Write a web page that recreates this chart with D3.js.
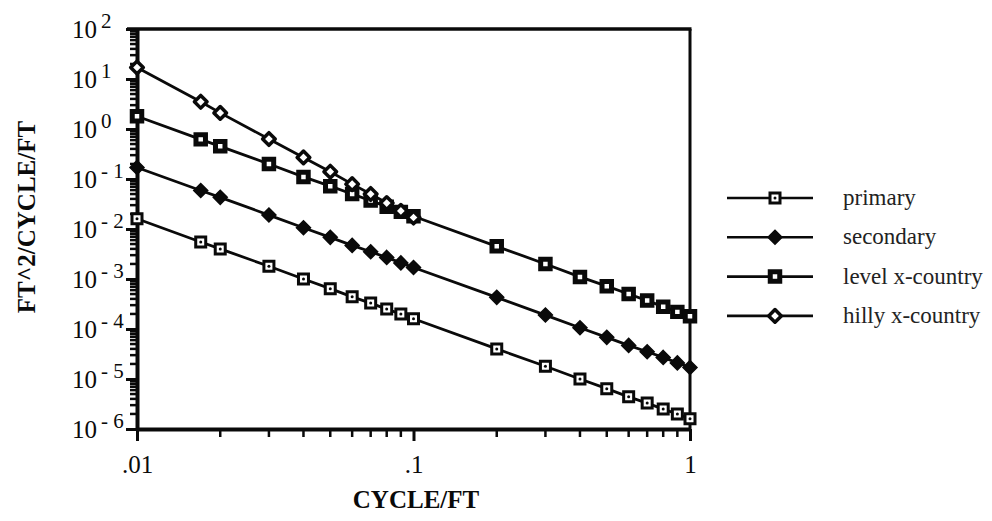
<!DOCTYPE html>
<html>
<head>
<meta charset="utf-8">
<script src="https://cdn.jsdelivr.net/npm/d3@7"></script>
<style>
  body { margin: 0; background: #fff; }
  svg { display: block; }
  svg text { font-family: "Liberation Serif", "Times New Roman", serif; }
</style>
</head>
<body>
<div id="chart"></div>
<script>
// spatial frequency (cycle/ft)
const xValues = [0.01, 0.017, 0.02, 0.03, 0.04, 0.05, 0.06, 0.07, 0.08, 0.09, 0.1,
                 0.2, 0.3, 0.4, 0.5, 0.6, 0.7, 0.8, 0.9, 1];

// PSD values (ft^2/cycle/ft)
const primary = [1.6e-2, 5.5e-3, 4.0e-3, 1.8e-3, 1.0e-3, 6.4e-4, 4.4e-4, 3.3e-4, 2.5e-4, 2.0e-4, 1.6e-4,
                 4.0e-5, 1.8e-5, 1.0e-5, 6.4e-6, 4.4e-6, 3.3e-6, 2.5e-6, 2.0e-6, 1.6e-6];
const secondary = [1.7e-1, 5.9e-2, 4.3e-2, 1.9e-2, 1.06e-2, 6.8e-3, 4.7e-3, 3.5e-3, 2.7e-3, 2.1e-3, 1.7e-3,
                   4.3e-4, 1.9e-4, 1.06e-4, 6.8e-5, 4.7e-5, 3.5e-5, 2.7e-5, 2.1e-5, 1.7e-5];
const levelXCountry = [1.8, 0.62, 0.45, 0.20, 0.11, 7.2e-2, 5.0e-2, 3.7e-2, 2.8e-2, 2.2e-2, 1.8e-2,
                       4.5e-3, 2.0e-3, 1.1e-3, 7.2e-4, 5.0e-4, 3.7e-4, 2.8e-4, 2.2e-4, 1.8e-4];
const hillyXCountry = [17, 3.5, 2.1, 0.63, 0.27, 0.14, 7.9e-2, 5.0e-2, 3.3e-2, 2.3e-2, 1.7e-2];

const seriesNames = ['primary', 'secondary', 'level x-country', 'hilly x-country'];
const yTickExponents = [2, 1, 0, -1, -2, -3, -4, -5, -6];
const xTickExponents = [-2, -1, 0];
const xTickLabels = ['.01', '.1', '1'];
const minorMultiples = [2, 3, 4, 5, 6, 7, 8, 9];

const W = 992, H = 521;
const margin = {top: 29, right: 302, bottom: 92, left: 137};
const width = W - margin.left - margin.right;
const height = H - margin.top - margin.bottom;

const svg = d3.select('#chart').append('svg')
  .attr('width', W)
  .attr('height', H);

const g = svg.append('g')
  .attr('transform', 'translate(' + margin.left + ',' + margin.top + ')');

const x = d3.scaleLog().domain([0.01, 1]).range([0, width]);
const y = d3.scaleLog().domain([1e-6, 1e2]).range([height, 0]);

const ink = '#0a0a0a';

// minor tick values: 2..9 within each decade
const yMinor = d3.merge(yTickExponents.slice(1).map(e => minorMultiples.map(k => k * Math.pow(10, e))));
const xMinor = d3.merge(xTickExponents.slice(0, -1).map(e => minorMultiples.map(k => k * Math.pow(10, e))));

// frame (top + right)
g.append('line').attr('x1', -10).attr('x2', width + 1.5).attr('y1', 0).attr('y2', 0)
  .attr('stroke', ink).attr('stroke-width', 3.5);
g.append('line').attr('x1', width).attr('x2', width).attr('y1', 0).attr('y2', height)
  .attr('stroke', ink).attr('stroke-width', 3);

g.append('g').attr('class', 'y-minor').selectAll('line')
  .data(yMinor)
  .enter().append('line')
  .attr('x1', -7).attr('x2', 0)
  .attr('y1', d => y(d)).attr('y2', d => y(d))
  .attr('stroke', ink).attr('stroke-width', 2.5);

g.append('g').attr('class', 'x-minor').selectAll('line')
  .data(xMinor)
  .enter().append('line')
  .attr('x1', d => x(d)).attr('x2', d => x(d))
  .attr('y1', height).attr('y2', height + 8)
  .attr('stroke', ink).attr('stroke-width', 2.5);

// major y axis
const yAxis = g.append('g')
  .call(d3.axisLeft(y).tickValues(yTickExponents.map(e => Math.pow(10, e))).tickSize(11).tickSizeOuter(0).tickFormat(''));
yAxis.attr('font-family', null).attr('font-size', null);
yAxis.select('.domain').attr('stroke', ink).attr('stroke-width', 4);
yAxis.selectAll('.tick line').attr('stroke', ink).attr('stroke-width', 3);
yAxis.selectAll('.tick').each(function(d) {
  const t = d3.select(this).append('text')
    .attr('x', -65)
    .attr('y', 8)
    .attr('fill', ink)
    .attr('text-anchor', 'start')
    .style('font-size', '25px');
  t.append('tspan').text('10');
  t.append('tspan')
    .attr('dx', 4)
    .attr('dy', -10)
    .style('font-size', '21px')
    .text(String(Math.round(Math.log10(d))).replace('-', '- '));
});

// major x axis
const xAxis = g.append('g')
  .attr('transform', 'translate(0,' + height + ')')
  .call(d3.axisBottom(x).tickValues(xTickExponents.map(e => Math.pow(10, e))).tickSize(12).tickSizeOuter(0)
    .tickFormat((d, i) => xTickLabels[i]));
xAxis.attr('font-family', null).attr('font-size', null);
xAxis.select('.domain').attr('stroke', ink).attr('stroke-width', 4);
xAxis.selectAll('.tick line').attr('stroke', ink).attr('stroke-width', 3);
xAxis.selectAll('.tick text')
  .attr('y', 26)
  .attr('dy', '0.71em')
  .attr('fill', ink)
  .style('font-size', '25px');

// axis titles
svg.append('text')
  .attr('x', 416)
  .attr('y', 508)
  .attr('text-anchor', 'middle')
  .attr('fill', ink)
  .style('font-size', '25px')
  .style('font-weight', 'bold')
  .text('CYCLE/FT');

svg.append('text')
  .attr('transform', 'translate(35,217) rotate(-90)')
  .attr('text-anchor', 'middle')
  .attr('fill', ink)
  .style('font-size', '25px')
  .style('font-weight', 'bold')
  .text('FT^2/CYCLE/FT');

// markers
const diamondType = {
  draw(ctx, size) {
    const r = Math.sqrt(size) / 2;
    ctx.moveTo(0, -r); ctx.lineTo(r, 0); ctx.lineTo(0, r); ctx.lineTo(-r, 0); ctx.closePath();
  }
};

function drawMarker(sel, idx) {
  if (idx === 0) {
    sel.append('path').attr('d', d3.symbol(d3.symbolSquare, 100)())
      .attr('fill', '#fff').attr('stroke', ink).attr('stroke-width', 3);
    sel.append('circle').attr('r', 1.5).attr('fill', ink);
  } else if (idx === 1) {
    sel.append('path').attr('d', d3.symbol(diamondType, 196)())
      .attr('fill', ink).attr('stroke', ink).attr('stroke-width', 1.5);
  } else if (idx === 2) {
    sel.append('path').attr('d', d3.symbol(d3.symbolSquare, 90)())
      .attr('fill', '#fff').attr('stroke', ink).attr('stroke-width', 5);
    sel.append('rect').attr('x', -1.5).attr('y', -1.5).attr('width', 3).attr('height', 3).attr('fill', '#fff');
  } else {
    sel.append('path').attr('d', d3.symbol(diamondType, 160)())
      .attr('fill', '#fff').attr('stroke', ink).attr('stroke-width', 3.5)
      .attr('stroke-linejoin', 'round');
  }
}

const series = [primary, secondary, levelXCountry, hillyXCountry].map((vals, i) => ({
  name: seriesNames[i],
  idx: i,
  points: vals.map((v, j) => ({x: xValues[j], y: v}))
}));

const line = d3.line().x(d => x(d.x)).y(d => y(d.y));

series.forEach(s => {
  g.append('path')
    .datum(s.points)
    .attr('fill', 'none')
    .attr('stroke', ink)
    .attr('stroke-width', 2.8)
    .attr('d', line);
});

series.forEach(s => {
  g.selectAll('.m' + s.idx)
    .data(s.points)
    .enter().append('g')
    .attr('class', 'm' + s.idx)
    .attr('transform', d => 'translate(' + x(d.x) + ',' + y(d.y) + ')')
    .each(function() { drawMarker(d3.select(this), s.idx); });
});

// legend
const legend = svg.append('g').attr('transform', 'translate(727,198)');
const rows = legend.selectAll('g')
  .data(series)
  .enter().append('g')
  .attr('transform', (d, i) => 'translate(0,' + (i * 39.3) + ')');
rows.append('line')
  .attr('x1', 0).attr('x2', 86)
  .attr('stroke', ink).attr('stroke-width', 2.6);
rows.append('g')
  .attr('transform', 'translate(48,0)')
  .each(function(d) { drawMarker(d3.select(this), d.idx); });
rows.append('text')
  .attr('x', 116)
  .attr('y', 0)
  .attr('dy', '0.3em')
  .attr('fill', '#222')
  .style('font-size', '23px')
  .text(d => d.name);
</script>
</body>
</html>
